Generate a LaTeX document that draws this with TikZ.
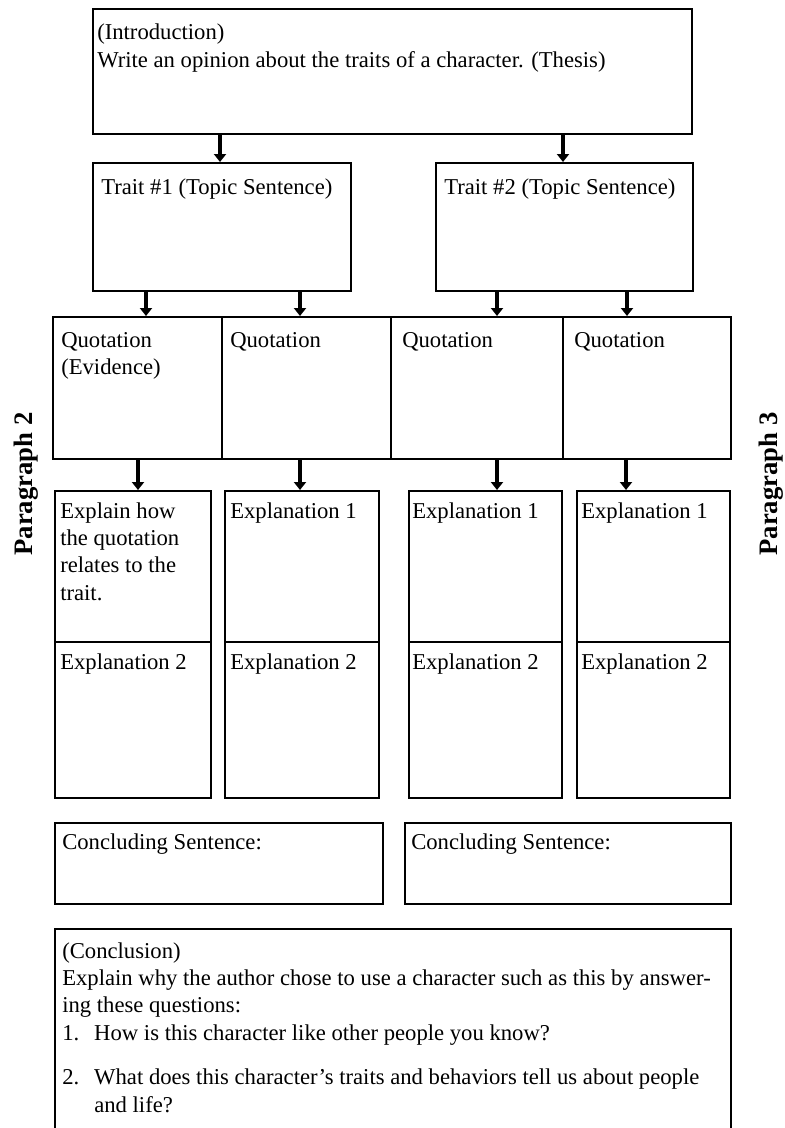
\documentclass[tikz,border=0pt]{standalone}
\usepackage{fontspec}
\setmainfont{Liberation Serif}
\usetikzlibrary{arrows.meta}

\tikzset{
    box/.style 2 args={draw, line width=1.5pt, inner sep=0pt, anchor=north west,
        minimum width=#1*0.75pt, minimum height=#2*0.75pt},
    txt/.style={anchor=north west, inner sep=0pt, align=left, font=\fontsize{17}{20.5}\selectfont},
    arr/.style={line width=2.6pt, -{Triangle[width=9pt,length=6pt]}},
    paralabel/.style={rotate=90, inner sep=0pt, font=\bfseries\fontsize{20}{24}\selectfont}
}

\begin{document}
\begin{tikzpicture}[x=0.75pt,y=0.75pt,yscale=-1,xscale=1]
    \fill[white] (0,0) rectangle (785,1128);
    \useasboundingbox (0,0) rectangle (785,1128);

    %Shape: Rectangle [intro]
    \node[box={599}{125}] (intro) at (92,8) {};
    %Shape: Rectangle [traits]
    \node[box={258}{128}] (trait1) at (92,162) {};
    \node[box={257}{128}] (trait2) at (435,162) {};
    %Shape: Rectangle [quotations]
    \node[box={169}{142}] (quo1) at (52,316) {};
    \node[box={169}{142}] (quo2) at (221,316) {};
    \node[box={172}{142}] (quo3) at (390,316) {};
    \node[box={168}{142}] (quo4) at (562,316) {};
    %Shape: Rectangle [explanations]
    \node[box={156}{151}] (expa1) at (54,490) {};
    \node[box={156}{156}] (expb1) at (54,641) {};
    \node[box={154}{151}] (expa2) at (224,490) {};
    \node[box={154}{156}] (expb2) at (224,641) {};
    \node[box={153}{151}] (expa3) at (408,490) {};
    \node[box={153}{156}] (expb3) at (408,641) {};
    \node[box={153}{151}] (expa4) at (576,490) {};
    \node[box={153}{156}] (expb4) at (576,641) {};
    %Shape: Rectangle [concluding sentences]
    \node[box={328}{81}] (concl1) at (54,822) {};
    \node[box={326}{81}] (concl2) at (404,822) {};
    %Shape: Rectangle [conclusion, runs off the page]
    \node[box={676}{230}] (concl) at (54,928) {};

    %Arrows
    \coordinate (ax1) at (220,0);
    \coordinate (ax2) at (563,0);
    \coordinate (bx1) at (146,0);
    \coordinate (bx2) at (300,0);
    \coordinate (bx3) at (497,0);
    \coordinate (bx4) at (627,0);
    \coordinate (cx1) at (138,0);
    \coordinate (cx2) at (300,0);
    \coordinate (cx3) at (497,0);
    \coordinate (cx4) at (626,0);
    \draw[arr] (intro.south -| ax1) -- (trait1.north -| ax1);
    \draw[arr] (intro.south -| ax2) -- (trait2.north -| ax2);
    \draw[arr] (trait1.south -| bx1) -- (quo1.north -| bx1);
    \draw[arr] (trait1.south -| bx2) -- (quo2.north -| bx2);
    \draw[arr] (trait2.south -| bx3) -- (quo3.north -| bx3);
    \draw[arr] (trait2.south -| bx4) -- (quo4.north -| bx4);
    \draw[arr] (quo1.south -| cx1) -- (expa1.north -| cx1);
    \draw[arr] (quo2.south -| cx2) -- (expa2.north -| cx2);
    \draw[arr] (quo3.south -| cx3) -- (expa3.north -| cx3);
    \draw[arr] (quo4.south -| cx4) -- (expa4.north -| cx4);

    % Text Node
    \node[txt] (tintro) at (97,24) {(Introduction)\\Write an opinion about the traits of a character. (Thesis)};
    % Text Node
    \node[txt] (ttrait1) at (101,179) {Trait \#1 (Topic Sentence)};
    \node[txt] (ttrait2) at (444,179) {Trait \#2 (Topic Sentence)};
    % Text Node
    \node[txt] (tquo1) at (61,332) {Quotation\\(Evidence)};
    \node[txt] (tquo2) at (230,332) {Quotation};
    \node[txt] (tquo3) at (402,332) {Quotation};
    \node[txt] (tquo4) at (574,332) {Quotation};
    % Text Node
    \node[txt] (texpa1) at (60,502) {Explain how\\the quotation\\relates to the\\trait.};
    \node[txt] (texpa2) at (230,502) {Explanation 1};
    \node[txt] (texpa3) at (412,502) {Explanation 1};
    \node[txt] (texpa4) at (581,502) {Explanation 1};
    \node[txt] (texpb1) at (60,653) {Explanation 2};
    \node[txt] (texpb2) at (230,653) {Explanation 2};
    \node[txt] (texpb3) at (412,653) {Explanation 2};
    \node[txt] (texpb4) at (581,653) {Explanation 2};
    % Text Node
    \node[txt] (tconcl1) at (62,833) {Concluding Sentence:};
    \node[txt] (tconcl2) at (411,833) {Concluding Sentence:};
    % Text Node
    \node[txt] (tconcl) at (62,942) {(Conclusion)\\
        Explain why the author chose to use a character such as this by answer-\\
        ing these questions:\\
        \makebox[24pt][l]{1.}How is this character like other people you know?\\[13pt]
        \makebox[24pt][l]{2.}What does this character's traits and behaviors tell us about people\\
        \hspace*{24pt}and life?};

    % Side labels
    \node[paralabel] (par2) at (26,484) {Paragraph 2};
    \node[paralabel] (par3) at (771,484) {Paragraph 3};

\end{tikzpicture}
\end{document}
